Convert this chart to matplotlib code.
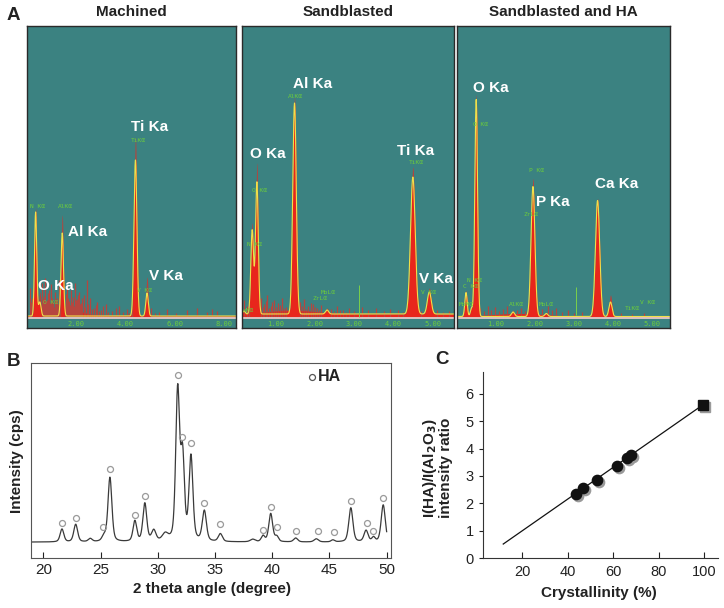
import numpy as np
import matplotlib.pyplot as plt
from matplotlib.transforms import offset_copy

plt.rcParams["font.family"] = ["Liberation Sans", "DejaVu Sans"]

W, H = 724, 608

# ---------------- A: EDS spectra ----------------
# energy in keV, heights in plot units above the frame bottom
eds_titles = ["Machined", "Sandblasted", "Sandblasted and HA"]
eds_xlim = [(0.0, 8.48), (0.13, 5.54), (0.02, 5.46)]
eds_ticks = [[2, 4, 6, 8], [1, 2, 3, 4, 5], [1, 2, 3, 4, 5]]
eds_base = [12, 14, 11.5]

eds1_e = [0.35, 0.52, 1.43, 4.40, 4.87]
eds1_smooth = [104, 14, 83, 156, 23]
eds1_raw = [108, 24, 101, 179, 39]
eds1_w = [0.045, 0.05, 0.05, 0.06, 0.05]

eds2_e = [0.18, 0.39, 0.51, 1.47, 2.30, 4.49, 4.91]
eds2_smooth = [3, 84, 132, 211, 4, 137, 22]
eds2_raw = [5, 91, 151, 217, 6, 147, 26]
eds2_w = [0.03, 0.035, 0.035, 0.045, 0.04, 0.06, 0.05]

eds3_e = [0.25, 0.39, 0.51, 1.45, 1.96, 2.30, 3.61, 3.94]
eds3_smooth = [24, 8, 217, 4.5, 130, 3, 116, 14.5]
eds3_raw = [26, 9, 222, 6, 138, 4, 118, 21.5]
eds3_w = [0.03, 0.03, 0.035, 0.04, 0.05, 0.04, 0.055, 0.04]

# broad continuum hump under the noise (centre, height, width)
eds_hump = [(1.5, 9, 0.6), (1.4, 4, 0.6), (1.6, 3, 0.7)]

spikes1_e = [0.12, 0.17, 0.22, 0.6, 0.62, 0.66, 0.68, 0.72, 0.75, 0.79, 0.83, 0.87,
             0.9, 0.94, 0.97, 1.01, 1.05, 1.09, 1.12, 1.16, 1.2, 1.24, 1.28, 1.32,
             1.55, 1.58, 1.61, 1.64, 1.68, 1.72, 1.76, 1.8, 1.84, 1.88, 1.92, 1.95,
             1.99, 2.03, 2.08, 2.12, 2.16, 2.2, 2.25, 2.3, 2.36, 2.42, 2.48, 2.55,
             2.62, 2.7, 2.78, 2.85, 2.92, 3.0, 3.1, 3.2, 3.3, 3.45, 3.6, 3.75, 3.9,
             4.05, 4.15, 4.25, 5.05, 5.2, 5.35, 5.7, 6.05, 6.5, 6.9, 7.3, 7.5, 7.7]
spikes1_y = [40, 26, 30, 24, 45, 29, 32, 22, 50, 27, 28, 35, 38, 25, 44, 30, 26, 21,
             36, 28, 30, 24, 48, 27, 22, 34, 25, 42, 30, 27, 23, 38, 26, 31, 22, 45,
             28, 29, 33, 36, 24, 25, 30, 33, 21, 48, 24, 30, 19, 20, 23, 26, 17, 18,
             22, 24, 16, 17, 20, 22, 16, 19, 15, 21, 20, 15, 16, 19, 15, 18, 20, 16,
             19, 17]
spikes2_e = [0.18, 0.25, 0.3, 0.62, 0.66, 0.7, 0.74, 0.78, 0.82, 0.86, 0.9, 0.95,
             1.0, 1.05, 1.1, 1.15, 1.2, 1.25, 1.62, 1.67, 1.72, 1.77, 1.82, 1.88,
             1.95, 2.0, 2.05, 2.1, 2.15, 2.4, 2.48, 2.55, 2.62, 2.7, 2.78, 2.85, 3.0,
             3.2, 3.35, 3.55, 3.75, 3.9, 4.1, 4.25, 4.7, 5.1, 5.25, 5.4]
spikes2_y = [28, 22, 26, 30, 21, 24, 27, 33, 20, 22, 26, 28, 21, 25, 23, 30, 20, 21,
             26, 22, 29, 19, 22, 25, 24, 21, 20, 18, 23, 19, 17, 22, 18, 18, 16, 20,
             17, 21, 18, 20, 17, 19, 18, 16, 17, 18, 16, 17]
spikes3_e = [0.62, 0.7, 0.8, 0.9, 1.0, 1.1, 1.2, 1.3, 1.55, 1.65, 1.75, 2.2, 2.35,
             2.45, 2.55, 2.7, 2.85, 3.0, 3.2, 4.2, 4.5, 4.8]
spikes3_y = [20, 17, 22, 18, 21, 17, 19, 22, 18, 20, 17, 19, 22, 18, 20, 16, 18, 15,
             16, 15, 14, 15]

# small green element tags written by the EDS software
tags1 = [(0.12, 122, "N Kα"), (1.25, 122, "AlKα"), (4.2, 187, "TiKα"),
         (4.45, 38, "V Kα"), (0.66, 26, "O Kα")]
tags2 = [(1.3, 232, "AlKα"), (0.39, 138, "O Kα"), (0.26, 83, "N Kα"),
         (4.39, 166, "TiKα"), (4.7, 35, "V Kα"), (2.15, 36, "MoLα"),
         (1.92, 29, "ZrLα"), (0.16, 18, "xMα")]
tags3 = [(0.42, 203, "O Kα"), (1.86, 157, "P Kα"), (1.72, 113, "ZrLα"),
         (0.28, 48, "N Kα"), (0.18, 42, "C Kα"), (0.07, 24, "MoMα"),
         (1.35, 24, "AlKα"), (2.11, 23, "MoLα"), (4.31, 19, "TiKα"),
         (4.69, 26, "V Kα")]
marker_line = [None, (3.11, 11, 43), (3.07, 13, 41)]

# white peak labels
labels1 = [(4.98, 201, "Ti Ka"), (2.45, 96, "Al Ka"), (1.16, 42, "O Ka"), (5.64, 52, "V Ka")]
labels2 = [(1.92, 244, "Al Ka"), (0.80, 174, "O Ka"), (4.57, 177, "Ti Ka"), (5.08, 49, "V Ka")]
labels3 = [(0.89, 240, "O Ka"), (2.47, 126, "P Ka"), (4.10, 144, "Ca Ka")]

# ---------------- B: XRD pattern ----------------
xrd_pos = [21.63, 22.83, 24.1, 25.3, 25.82, 28.0, 28.87, 29.65, 30.65, 31.74, 32.17,
           32.9, 34.07, 35.47, 38.3, 39.2, 39.87, 40.4, 42.05, 43.85, 45.3, 46.87,
           48.2, 48.85, 49.7]
xrd_amp = [6.6, 9.0, 1.6, 2.6, 33, 10.5, 19.5, 5.5, 3.5, 77, 42, 43, 15.5, 4.0, 1.3,
           3.0, 14.5, 2.6, 2.0, 1.6, 1.0, 17.5, 5.8, 2.2, 19]
xrd_fwhm = [0.38, 0.4, 0.4, 0.4, 0.4, 0.38, 0.4, 0.45, 0.6, 0.4, 0.38, 0.4, 0.42,
            0.42, 0.5, 0.36, 0.4, 0.36, 0.42, 0.45, 0.36, 0.42, 0.42, 0.34, 0.42]
xrd_base = 8.3
ha_x = [21.63, 22.83, 25.2, 25.8, 28.0, 28.87, 31.74, 32.15, 32.9, 34.07, 35.47,
        39.2, 39.87, 40.4, 42.08, 44.0, 45.4, 46.87, 48.25, 48.85, 49.7]
ha_y = [18.3, 20.8, 16.2, 46, 22.3, 32.1, 94, 62.4, 59.3, 28.6, 17.5, 14.5, 26.4,
        16, 14.2, 13.8, 13.7, 29.6, 18, 14.2, 30.7]

# ---------------- C: crystallinity ----------------
cryst = [43.6, 46.8, 52.7, 61.5, 65.9, 67.6]
ratio = [2.34, 2.55, 2.87, 3.36, 3.64, 3.76]
ref_cryst = [99.5]
ref_ratio = [5.6]
fit_x = [11.6, 99.5]
fit_y = [0.52, 5.6]


def rect(l, t, r, b):
    return [l / W, 1 - b / H, (r - l) / W, (b - t) / H]


def gauss(x, c, h, w):
    return h * np.exp(-0.5 * ((x - c) / w) ** 2)


def pvoigt(x, c, h, fwhm, eta=0.4):
    g = np.exp(-4 * np.log(2) * ((x - c) / fwhm) ** 2)
    lo = 1 / (1 + 4 * ((x - c) / fwhm) ** 2)
    return h * (eta * lo + (1 - eta) * g)


fig = plt.figure(figsize=(7.24, 6.08), dpi=100)

teal = "#3b8281"
boxes = [(27, 26, 236, 328), (242, 26, 454, 328), (457, 26, 670, 328)]
peaks = [(eds1_e, eds1_smooth, eds1_raw, eds1_w),
         (eds2_e, eds2_smooth, eds2_raw, eds2_w),
         (eds3_e, eds3_smooth, eds3_raw, eds3_w)]
spikes = [(spikes1_e, spikes1_y), (spikes2_e, spikes2_y), (spikes3_e, spikes3_y)]
tags = [tags1, tags2, tags3]
labels = [labels1, labels2, labels3]

for i in range(3):
    ax = fig.add_axes(rect(*boxes[i]))
    ax.set_facecolor(teal)
    x0, x1 = eds_xlim[i]
    e = np.linspace(x0, x1, 3000)
    base = eds_base[i]
    pe, ps, pr, pw = peaks[i]
    smooth = base + sum(gauss(e, c, h, w) for c, h, w in zip(pe, ps, pw))
    raw = base + sum(gauss(e, c, h, w * 0.85) for c, h, w in zip(pe, pr, pw))
    hump = base + gauss(e, *eds_hump[i])
    ax.fill_between(e, 10, raw, color="#b9413a", lw=0)
    ax.vlines(spikes[i][0], 10, spikes[i][1], color="#b5463f", lw=0.9)
    ax.fill_between(e, 10, np.maximum(smooth, hump), color="#e8261c", lw=0)
    ax.plot(e, smooth, color="#f0e04a", lw=0.8)
    ax.axhline(10, color="#dfeaea", lw=1.1)
    if marker_line[i]:
        me, m0, m1 = marker_line[i]
        ax.vlines(me, m0, m1, color="#7ad04a", lw=0.7)
    for t in eds_ticks[i]:
        ax.text(t, 4.5, "%.2f" % t, color="#6ccc3c", fontsize=5,
                family="DejaVu Sans Mono", ha="center", va="center")
    for te, ty, s in tags[i]:
        ax.text(te, ty, s, color="#6ccc3c", fontsize=4.5,
                family="DejaVu Sans Mono", ha="left", va="center")
    for le, ly, s in labels[i]:
        ax.text(le, ly, s, color="white", fontsize=11, fontweight="bold",
                ha="center", va="center")
    ax.set_xlim(x0, x1)
    ax.set_ylim(0, 302)
    ax.set_xticks([])
    ax.set_yticks([])
    for sp in ax.spines.values():
        sp.set_color("#2a2a2a")
        sp.set_linewidth(1)
    fig.text((boxes[i][0] + boxes[i][2]) / 2 / W, 1 - 12.5 / H, eds_titles[i],
             fontsize=11, fontweight="bold", ha="center", va="center", color="#222")

# ---- B
axb = fig.add_axes(rect(31.3, 363.3, 391, 558.3))
tth = np.linspace(19, 50, 4000)
inten = xrd_base + sum(pvoigt(tth, c, h, f) for c, h, f in zip(xrd_pos, xrd_amp, xrd_fwhm))
axb.plot(tth, inten, color="#3a3a3a", lw=0.9)
axb.plot(ha_x, ha_y, "o", mfc="none", mec="#9a9a9a", ms=4.3, mew=0.9)
axb.plot([43.45], [93.1], "o", mfc="none", mec="#555", ms=4.3, mew=0.9)
axb.text(43.95, 93.1, "HA", fontsize=11.5, fontweight="bold", va="center", ha="left",
         color="#222")
axb.set_xlim(18.95, 50.38)
axb.set_ylim(0, 100)
axb.set_yticks([])
axb.set_xticks([20, 25, 30, 35, 40, 45, 50])
axb.tick_params(axis="x", direction="in", length=4.5, width=0.8, pad=3.6,
                labelsize=11, colors="#222")
for sp in axb.spines.values():
    sp.set_color("#555")
    sp.set_linewidth(0.8)

# ---- C
axc = fig.add_axes(rect(483, 371.7, 718, 558.3))
shadow = offset_copy(axc.transData, fig=fig, x=2, y=-2, units="dots")
axc.plot(fit_x, fit_y, color="#111", lw=0.9)
axc.plot(cryst, ratio, "o", color="#9a9a9a", ms=7.4, transform=shadow)
axc.plot(ref_cryst, ref_ratio, "s", color="#9a9a9a", ms=6.6, transform=shadow)
axc.plot(cryst, ratio, "o", color="#111", ms=7.4)
axc.plot(ref_cryst, ref_ratio, "s", color="#111", ms=6.6)
axc.set_xlim(2.7, 106)
axc.set_ylim(0, 6.8)
axc.set_xticks([20, 40, 60, 80, 100])
axc.set_yticks(range(7))
axc.tick_params(axis="x", direction="in", length=4, width=0.8, pad=4.8,
                labelsize=10.5, colors="#222")
axc.tick_params(axis="y", direction="out", length=3, width=0.8, pad=3.6,
                labelsize=10.5, colors="#222")
axc.spines["top"].set_visible(False)
axc.spines["right"].set_visible(False)
for s in ("left", "bottom"):
    axc.spines[s].set_color("#333")
    axc.spines[s].set_linewidth(0.8)

# panel letters and axis titles
bold = dict(fontweight="bold", color="#222", ha="center", va="center")
fig.text(13 / W, 1 - 15 / H, "A", fontsize=13.5, **bold)
fig.text(13.5 / W, 1 - 361 / H, "B", fontsize=13.5, **bold)
fig.text(441.5 / W, 1 - 359 / H, "C", fontsize=13.5, **bold)
fig.text(17.5 / W, 1 - 461 / H, "Intensity (cps)", fontsize=11, rotation=90, **bold)
fig.text(212 / W, 1 - 589 / H, "2 theta angle (degree)", fontsize=11, **bold)
fig.text(437 / W, 1 - 468 / H,
         "I(HA)/I(Al$_{\\mathbf{2}}$O$_{\\mathbf{3}}$)\nintensity ratio",
         fontsize=11, rotation=90, linespacing=1.0, **bold)
fig.text(599 / W, 1 - 593 / H, "Crystallinity (%)", fontsize=11, **bold)

fig.savefig("out.png", dpi=100)
